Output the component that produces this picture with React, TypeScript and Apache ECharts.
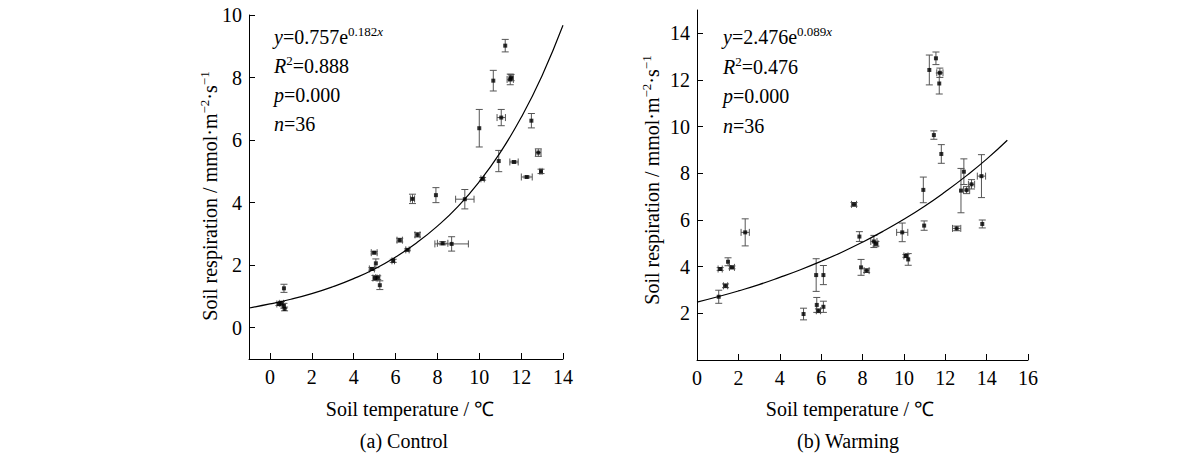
import { useEffect, useRef } from "react";
import * as echarts from "echarts";

// ---- (a) Control ----
const ctrlX = [0.43, 0.55, 0.67, 0.7, 0.67, 4.87, 4.98, 5.06, 5.02, 5.15, 5.25, 5.89, 6.2, 6.57, 6.81, 7.05, 7.93, 8.25, 8.68, 9.31, 10.0, 10.16, 10.67, 10.93, 11.05, 11.24, 11.48, 11.52, 11.66, 12.27, 12.49, 12.82, 12.95];
const ctrlY = [0.76, 0.78, 0.7, 0.6, 1.26, 1.88, 2.4, 2.06, 1.59, 1.6, 1.36, 2.14, 2.8, 2.49, 4.12, 2.97, 4.24, 2.7, 2.68, 4.11, 6.38, 4.76, 7.9, 5.33, 6.72, 9.02, 7.94, 8.0, 5.3, 4.82, 6.62, 5.6, 5.0];
const ctrlXErr = [0.1, 0.1, 0, 0, 0, 0.12, 0.14, 0, 0.1, 0.1, 0, 0.06, 0.13, 0.08, 0.1, 0.12, 0, 0.25, 0.8, 0.44, 0, 0.08, 0, 0, 0.2, 0, 0.15, 0.1, 0.2, 0.26, 0, 0.13, 0.05];
const ctrlYErr = [0.05, 0.06, 0.08, 0.06, 0.13, 0.04, 0.04, 0.14, 0.08, 0.06, 0.14, 0.05, 0.06, 0.03, 0.15, 0.07, 0.24, 0.05, 0.23, 0.31, 0.6, 0.04, 0.33, 0.34, 0.26, 0.2, 0.17, 0.1, 0.03, 0.03, 0.23, 0.12, 0.07];
// fitted curve
const ctrlFitX = [-1, 0, 1, 2, 3, 4, 5, 6, 7, 8, 9, 10, 11, 12, 13, 14];
const ctrlFitY = [0.63, 0.76, 0.91, 1.09, 1.31, 1.57, 1.88, 2.26, 2.71, 3.25, 3.89, 4.67, 5.6, 6.72, 8.06, 9.67];
const ctrlXTicks = [0, 2, 4, 6, 8, 10, 12, 14];
const ctrlYTicks = [0, 2, 4, 6, 8, 10];

// ---- (b) Warming ----
const warmX = [1.05, 1.12, 1.38, 1.5, 1.69, 2.33, 5.15, 5.76, 5.79, 5.87, 6.11, 6.11, 7.59, 7.85, 7.93, 8.2, 8.55, 8.65, 9.92, 10.1, 10.21, 10.94, 10.98, 11.23, 11.45, 11.55, 11.71, 11.74, 11.81, 12.55, 12.76, 12.9, 13.03, 13.27, 13.75, 13.79];
const warmY = [2.71, 3.9, 3.18, 4.21, 3.97, 5.47, 1.97, 3.64, 2.36, 2.11, 3.64, 2.28, 6.67, 5.29, 3.97, 3.83, 5.08, 4.98, 5.47, 4.46, 4.31, 7.29, 5.76, 12.43, 9.64, 12.93, 11.85, 12.31, 8.83, 5.64, 7.26, 8.07, 7.28, 7.53, 7.88, 5.83];
const warmXErr = [0, 0.1, 0.1, 0, 0.12, 0.2, 0, 0, 0, 0.1, 0, 0, 0.12, 0, 0, 0.12, 0.15, 0.1, 0.27, 0.1, 0, 0, 0, 0, 0, 0, 0, 0.15, 0, 0.2, 0, 0, 0.15, 0.15, 0.2, 0];
const warmYErr = [0.28, 0.06, 0.08, 0.17, 0.06, 0.58, 0.25, 0.7, 0.32, 0.08, 0.41, 0.24, 0.08, 0.21, 0.34, 0.08, 0.26, 0.1, 0.4, 0.06, 0.25, 0.55, 0.2, 0.64, 0.18, 0.27, 0.45, 0.2, 0.4, 0.1, 0.95, 0.55, 0.15, 0.2, 0.92, 0.17];
const warmFitX = [0, 1, 2, 3, 4, 5, 6, 7, 8, 9, 10, 11, 12, 13, 14, 15];
const warmFitY = [2.48, 2.71, 2.96, 3.23, 3.54, 3.87, 4.23, 4.62, 5.05, 5.52, 6.03, 6.59, 7.21, 7.88, 8.61, 9.42];
const warmXTicks = [0, 2, 4, 6, 8, 10, 12, 14, 16];
const warmYTicks = [2, 4, 6, 8, 10, 12, 14];

const FONT = "Liberation Serif";

const errRender = (params: any, api: any) => {
  const x = api.value(0);
  const y = api.value(1);
  const xe = api.value(2);
  const ye = api.value(3);
  const c = api.coord([x, y]);
  const cap = 3.5;
  const style = { stroke: "#555", lineWidth: 1, fill: null };
  const children: any[] = [];
  if (ye > 0) {
    const t = api.coord([x, y + ye]);
    const b = api.coord([x, y - ye]);
    children.push({ type: "line", shape: { x1: c[0], y1: t[1], x2: c[0], y2: b[1] }, style });
    children.push({ type: "line", shape: { x1: c[0] - cap, y1: t[1], x2: c[0] + cap, y2: t[1] }, style });
    children.push({ type: "line", shape: { x1: c[0] - cap, y1: b[1], x2: c[0] + cap, y2: b[1] }, style });
  }
  if (xe > 0) {
    const l = api.coord([x - xe, y]);
    const r = api.coord([x + xe, y]);
    children.push({ type: "line", shape: { x1: l[0], y1: c[1], x2: r[0], y2: c[1] }, style });
    children.push({ type: "line", shape: { x1: l[0], y1: c[1] - cap, x2: l[0], y2: c[1] + cap }, style });
    children.push({ type: "line", shape: { x1: r[0], y1: c[1] - cap, x2: r[0], y2: c[1] + cap }, style });
  }
  return { type: "group", children };
};

const rich = {
  n: { fontSize: 20, fontFamily: FONT, lineHeight: 24, fill: "#000" },
  i: { fontSize: 20, fontFamily: FONT, fontStyle: "italic", lineHeight: 24, fill: "#000" },
  s: { fontSize: 13, fontFamily: FONT, lineHeight: 10, verticalAlign: "top", fill: "#000" },
  si: { fontSize: 13, fontFamily: FONT, fontStyle: "italic", lineHeight: 10, verticalAlign: "top", fill: "#000" },
};

const txt = (x: number, y: number, text: string, extra: any = {}) => ({
  type: "text",
  x,
  y,
  ...extra,
  style: { text, rich, fontSize: 20, fontFamily: FONT, fill: "#000", align: "left", verticalAlign: "middle", ...(extra.style || {}) },
});

const axisCommon = {
  type: "value" as const,
  axisLine: { show: true, onZero: false, lineStyle: { color: "#000", width: 1 } },
  splitLine: { show: false },
};

export default function App() {
  const ref = useRef<HTMLDivElement>(null);
  useEffect(() => {
    if (!ref.current) return;
    const chart = echarts.init(ref.current, null, { renderer: "svg" });
    const ctrlData = ctrlX.map((x, i) => [x, ctrlY[i], ctrlXErr[i], ctrlYErr[i]]);
    const warmData = warmX.map((x, i) => [x, warmY[i], warmXErr[i], warmYErr[i]]);
    const mkX = (grid: number, min: number, max: number, ticks: number[]) => ({
      ...axisCommon,
      gridIndex: grid,
      min,
      max,
      axisTick: { show: true, inside: true, length: 6, customValues: ticks, lineStyle: { color: "#000" } },
      axisLabel: { customValues: ticks, fontSize: 20, fontFamily: FONT, color: "#000", margin: 8 },
    });
    const mkY = (grid: number, min: number, max: number, ticks: number[]) => ({
      ...axisCommon,
      gridIndex: grid,
      min,
      max,
      axisTick: { show: true, inside: true, length: 6, customValues: ticks, lineStyle: { color: "#000" } },
      axisLabel: { customValues: ticks, fontSize: 20, fontFamily: FONT, color: "#000", margin: 7 },
    });
    const ytitle = "{n|Soil respiration / mmol·m}{s|−2}{n|·s}{s|−1}";
    chart.setOption({
      animation: false,
      backgroundColor: "#fff",
      textStyle: { fontFamily: FONT },
      grid: [
        { left: 249, top: 15, width: 314, height: 344 },
        { left: 697, top: 10, width: 331, height: 350 },
      ],
      xAxis: [mkX(0, -1, 14, ctrlXTicks), mkX(1, 0, 16, warmXTicks)],
      yAxis: [mkY(0, -1, 10, ctrlYTicks), mkY(1, 0, 15, warmYTicks)],
      series: [
        {
          type: "custom",
          xAxisIndex: 0,
          yAxisIndex: 0,
          renderItem: errRender,
          data: ctrlData,
          encode: { x: 0, y: 1 },
          z: 2,
        },
        {
          type: "scatter",
          xAxisIndex: 0,
          yAxisIndex: 0,
          symbol: "rect",
          symbolSize: 4,
          itemStyle: { color: "#000" },
          data: ctrlX.map((x, i) => [x, ctrlY[i]]),
          z: 3,
        },
        {
          type: "line",
          xAxisIndex: 0,
          yAxisIndex: 0,
          showSymbol: false,
          smooth: true,
          lineStyle: { color: "#000", width: 1.2 },
          data: ctrlFitX.map((x, i) => [x, ctrlFitY[i]]),
          z: 4,
        },
        {
          type: "custom",
          xAxisIndex: 1,
          yAxisIndex: 1,
          renderItem: errRender,
          data: warmData,
          encode: { x: 0, y: 1 },
          z: 2,
        },
        {
          type: "scatter",
          xAxisIndex: 1,
          yAxisIndex: 1,
          symbol: "rect",
          symbolSize: 4,
          itemStyle: { color: "#000" },
          data: warmX.map((x, i) => [x, warmY[i]]),
          z: 3,
        },
        {
          type: "line",
          xAxisIndex: 1,
          yAxisIndex: 1,
          showSymbol: false,
          smooth: true,
          lineStyle: { color: "#000", width: 1.2 },
          data: warmFitX.map((x, i) => [x, warmFitY[i]]),
          z: 4,
        },
      ],
      graphic: [
        txt(274, 37, "{i|y}{n|=0.757e}{s|0.182}{si|x}"),
        txt(274, 66, "{i|R}{s|2}{n|=0.888}"),
        txt(274, 95, "{i|p}{n|=0.000}"),
        txt(274, 124, "{i|n}{n|=36}"),
        txt(723, 37, "{i|y}{n|=2.476e}{s|0.089}{si|x}"),
        txt(723, 67, "{i|R}{s|2}{n|=0.476}"),
        txt(723, 96, "{i|p}{n|=0.000}"),
        txt(723, 126, "{i|n}{n|=36}"),
        txt(210, 196, ytitle, { rotation: Math.PI / 2, style: { align: "center" } }),
        txt(652, 180, ytitle, { rotation: Math.PI / 2, style: { align: "center" } }),
        txt(410, 409, "{n|Soil temperature / ℃}", { style: { align: "center" } }),
        txt(850, 409, "{n|Soil temperature / ℃}", { style: { align: "center" } }),
        txt(404, 441, "{n|(a) Control}", { style: { align: "center" } }),
        txt(848, 441, "{n|(b) Warming}", { style: { align: "center" } }),
      ],
    });
    return () => chart.dispose();
  }, []);
  return <div ref={ref} style={{ position: "fixed", left: 0, top: 0, width: 1200, height: 465, background: "#fff" }} />;
}
